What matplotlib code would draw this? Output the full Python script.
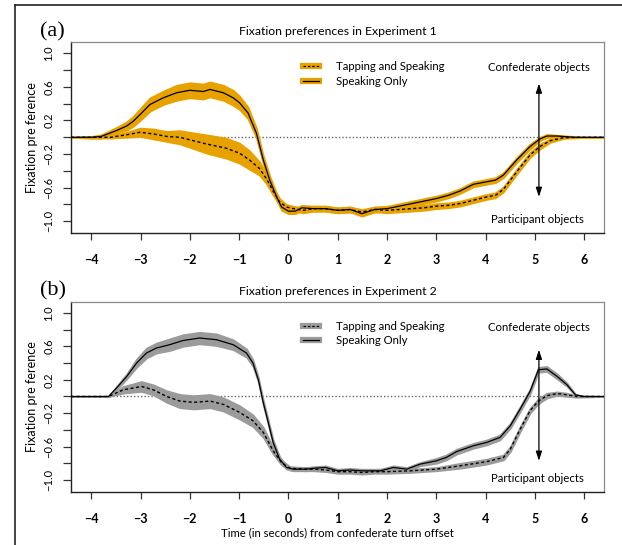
import matplotlib
matplotlib.use("Agg")
import matplotlib.pyplot as plt
from matplotlib.lines import Line2D
import numpy as np

# ---------------- data ----------------
# Experiment 1
e1_x_solid = [-4.41, -4.0, -3.8, -3.62, -3.45, -3.28, -3.15, -3.01, -2.81, -2.54, -2.27, -2.0,
              -1.73, -1.59, -1.32, -1.12, -0.99, -0.82, -0.65, -0.51, -0.38, -0.24, -0.14,
              0.0, 0.14, 0.27, 0.51, 0.75, 1.0, 1.25, 1.49, 1.75, 2.0, 2.25, 2.5, 2.75, 3.0,
              3.25, 3.48, 3.75, 4.02, 4.2, 4.36, 4.63, 4.9, 5.1, 5.24, 5.45, 5.79, 6.0, 6.4]
e1_y_solid = [0.0, 0.0, 0.01, 0.05, 0.09, 0.135, 0.19, 0.27, 0.39, 0.47, 0.53, 0.56,
              0.545, 0.57, 0.53, 0.47, 0.41, 0.29, 0.05, -0.27, -0.51, -0.71, -0.83,
              -0.88, -0.88, -0.84, -0.85, -0.85, -0.87, -0.86, -0.91, -0.86, -0.85, -0.82, -0.79, -0.76, -0.73,
              -0.69, -0.64, -0.56, -0.53, -0.51, -0.45, -0.27, -0.11, -0.02, 0.015, 0.015, 0.0, 0.0, 0.0]
e1_e_solid = [0.0, 0.01, 0.02, 0.03, 0.04, 0.05, 0.06, 0.07, 0.08, 0.08, 0.09, 0.09,
              0.09, 0.09, 0.09, 0.09, 0.08, 0.07, 0.06, 0.05, 0.05, 0.04, 0.04,
              0.03, 0.03, 0.03, 0.03, 0.03, 0.03, 0.03, 0.03, 0.03, 0.03, 0.03, 0.03, 0.03, 0.03,
              0.03, 0.03, 0.03, 0.03, 0.03, 0.03, 0.03, 0.03, 0.02, 0.02, 0.01, 0.01, 0.0, 0.0]

e1_x_dash = [-4.41, -4.0, -3.6, -3.45, -3.28, -3.01, -2.74, -2.47, -2.2, -2.0, -1.66, -1.26,
             -0.99, -0.79, -0.59, -0.45, -0.32, -0.18, -0.04, 0.1, 0.3, 0.51, 0.75, 1.0, 1.25,
             1.49, 1.75, 2.0, 2.25, 2.5, 2.75, 3.0, 3.25, 3.48, 3.75, 4.02, 4.2, 4.36, 4.63,
             4.9, 5.1, 5.31, 5.58, 5.85, 6.4]
e1_y_dash = [0.0, 0.0, 0.0, 0.015, 0.03, 0.06, 0.04, 0.01, 0.0, -0.03, -0.08, -0.13,
             -0.19, -0.27, -0.37, -0.49, -0.63, -0.77, -0.83, -0.85, -0.87, -0.85, -0.85, -0.87, -0.86,
             -0.89, -0.86, -0.87, -0.86, -0.85, -0.84, -0.82, -0.81, -0.79, -0.75, -0.71, -0.69, -0.62, -0.41,
             -0.21, -0.11, -0.04, -0.005, 0.0, 0.0]
e1_e_dash = [0.0, 0.01, 0.01, 0.02, 0.03, 0.05, 0.06, 0.06, 0.08, 0.09, 0.11, 0.12,
             0.12, 0.11, 0.08, 0.06, 0.05, 0.04, 0.03, 0.03, 0.03, 0.03, 0.03, 0.03, 0.03,
             0.03, 0.03, 0.03, 0.03, 0.03, 0.03, 0.03, 0.03, 0.03, 0.03, 0.03, 0.03, 0.03, 0.03,
             0.03, 0.03, 0.02, 0.01, 0.0, 0.0]

# Experiment 2
e2_x_solid = [-4.41, -4.0, -3.65, -3.49, -3.28, -3.08, -2.88, -2.68, -2.41, -2.14, -1.8, -1.46,
              -1.12, -0.85, -0.72, -0.61, -0.51, -0.41, -0.31, -0.18, -0.04, 0.1, 0.36, 0.51,
              0.75, 1.0, 1.25, 1.49, 1.86, 2.13, 2.4, 2.67, 3.0, 3.2, 3.41, 3.75, 4.02, 4.29,
              4.5, 4.7, 4.9, 5.07, 5.24, 5.45, 5.65, 5.82, 5.99, 6.4]
e2_y_solid = [0.0, 0.0, 0.0, 0.10, 0.24, 0.40, 0.52, 0.58, 0.62, 0.67, 0.70, 0.68,
              0.62, 0.52, 0.40, 0.20, -0.075, -0.31, -0.55, -0.75, -0.85, -0.87, -0.87, -0.86,
              -0.85, -0.89, -0.88, -0.89, -0.89, -0.85, -0.87, -0.81, -0.77, -0.73, -0.66, -0.59, -0.55, -0.49,
              -0.35, -0.15, 0.06, 0.32, 0.33, 0.24, 0.14, 0.02, 0.0, 0.0]
e2_e_solid = [0.0, 0.0, 0.0, 0.02, 0.03, 0.05, 0.06, 0.06, 0.07, 0.07, 0.07, 0.07,
              0.06, 0.05, 0.04, 0.03, 0.03, 0.03, 0.03, 0.03, 0.02, 0.02, 0.02, 0.02,
              0.02, 0.02, 0.02, 0.02, 0.02, 0.02, 0.02, 0.02, 0.03, 0.03, 0.03, 0.03, 0.03, 0.03,
              0.03, 0.03, 0.03, 0.03, 0.03, 0.03, 0.02, 0.01, 0.0, 0.0]

e2_x_dash = [-4.41, -4.0, -3.65, -3.35, -2.98, -2.74, -2.47, -2.2, -1.93, -1.59, -1.32, -0.99,
             -0.72, -0.51, -0.31, -0.14, 0.03, 0.36, 0.51, 0.75, 1.0, 1.25, 1.49, 1.75, 2.0, 2.47,
             3.0, 3.48, 4.02, 4.36, 4.5, 4.7, 4.9, 5.07, 5.24, 5.45, 5.65, 5.85, 6.4]
e2_y_dash = [0.0, 0.0, 0.0, 0.08, 0.12, 0.08, 0.0, -0.055, -0.07, -0.055, -0.095, -0.19,
             -0.29, -0.43, -0.65, -0.79, -0.86, -0.87, -0.87, -0.88, -0.9, -0.9, -0.91, -0.9, -0.9, -0.89,
             -0.87, -0.83, -0.78, -0.73, -0.63, -0.39, -0.17, -0.055, 0.01, 0.035, 0.02, 0.0, 0.0]
e2_e_dash = [0.0, 0.0, 0.0, 0.04, 0.06, 0.06, 0.07, 0.08, 0.08, 0.08, 0.08, 0.08,
             0.07, 0.06, 0.04, 0.03, 0.02, 0.02, 0.02, 0.02, 0.02, 0.02, 0.02, 0.02, 0.02, 0.02,
             0.02, 0.03, 0.03, 0.03, 0.03, 0.03, 0.03, 0.03, 0.03, 0.02, 0.02, 0.01, 0.0]

x_ticks = [-4, -3, -2, -1, 0, 1, 2, 3, 4, 5, 6]
y_ticks = [-1.0, -0.8, -0.6, -0.4, -0.2, 0.0, 0.2, 0.4, 0.6, 0.8, 1.0]
y_ticklabels = ["\u22121.0", "", "\u22120.6", "", "\u22120.2", "", "0.2", "", "0.6", "", "1.0"]
legend_labels = ["Tapping and Speaking", "Speaking Only"]
titles = ["Fixation preferences in Experiment 1", "Fixation preferences in Experiment 2"]
panel_tags = ["(a)", "(b)"]
arrow_top = [0.64, 0.56]
arrow_bottom = [-0.71, -0.77]
arrow_x = 5.08

ORANGE = "#E8A200"
GRAY = "#9B9B9B"

plt.rcParams['font.family'] = ['Lato', 'DejaVu Sans']

fig = plt.figure(figsize=(6.22, 5.45), dpi=100)

# outer frame (left + top only, as in the cropped reference)
fig.add_artist(Line2D([15/622, 15/622], [0, 1 - 5/545], transform=fig.transFigure,
                      color="#222222", lw=1.2))
fig.add_artist(Line2D([15/622, 1], [1 - 5/545, 1 - 5/545], transform=fig.transFigure,
                      color="#222222", lw=1.2))

panels = [
    dict(rect=[71/622, 1 - 233/545, 533/622, 191/545], band=ORANGE,
         xs=e1_x_solid, ys=e1_y_solid, es=e1_e_solid,
         xd=e1_x_dash, yd=e1_y_dash, ed=e1_e_dash),
    dict(rect=[71/622, 1 - 491.7/545, 533/622, 190/545], band=GRAY,
         xs=e2_x_solid, ys=e2_y_solid, es=e2_e_solid,
         xd=e2_x_dash, yd=e2_y_dash, ed=e2_e_dash),
]

for i, p in enumerate(panels):
    ax = fig.add_axes(p["rect"])
    ax.set_xlim(-4.41, 6.40)
    ax.set_ylim(-1.14, 1.135)
    ax.axhline(0, color="#666666", lw=1.0, ls=(0, (1, 1.5)), zorder=1)

    xd = np.array(p["xd"]); yd = np.array(p["yd"]); ed = np.array(p["ed"])
    xs = np.array(p["xs"]); ys = np.array(p["ys"]); es = np.array(p["es"])
    ax.fill_between(xd, yd - ed, yd + ed, color=p["band"], lw=1.2, edgecolor=p["band"], zorder=2)
    ax.fill_between(xs, ys - es, ys + es, color=p["band"], lw=1.2, edgecolor=p["band"], zorder=2)
    ax.plot(xd, yd, color="black", lw=1.0, ls=(0, (2.2, 1.8)), zorder=3)
    ax.plot(xs, ys, color="black", lw=0.9, zorder=3)

    ax.set_xticks(x_ticks)
    ax.set_xticklabels(["\u2212%d" % -t if t < 0 else str(t) for t in x_ticks])
    ax.set_yticks(y_ticks)
    ax.set_yticklabels(y_ticklabels, rotation=90, va="center")
    ax.tick_params(axis="x", length=5, width=0.9, pad=10, labelsize=9, color="#333333")
    ax.tick_params(axis="y", length=6, width=0.9, pad=6, labelsize=8, color="#333333")
    for lab in ax.get_xticklabels():
        lab.set_fontweight("bold")
    for side in ("left", "bottom"):
        ax.spines[side].set_color("#222222"); ax.spines[side].set_linewidth(1.0)
    for side in ("top", "right"):
        ax.spines[side].set_color("#8a8a8a"); ax.spines[side].set_linewidth(0.9)

    ax.set_ylabel("Fixation pre ference", fontsize=9, labelpad=4)
    ax.set_title(titles[i], fontsize=8.8, pad=5)

    # legend
    h_tap = (Line2D([], [], color=p["band"], lw=4.5),
             Line2D([], [], color="black", lw=0.9, ls=(0, (2, 1.5))))
    h_spk = (Line2D([], [], color=p["band"], lw=4.5),
             Line2D([], [], color="black", lw=0.9))
    ax.legend([h_tap, h_spk], legend_labels, loc="upper left",
              bbox_to_anchor=(0.435, 0.9), frameon=False, fontsize=8.2,
              handlelength=1.4, handletextpad=1.5, borderpad=0, borderaxespad=0,
              labelspacing=0.3)

    ax.text(arrow_x, 0.83, "Confederate objects", ha="center", va="center", fontsize=8.2)
    ax.text(5.04, -0.98, "Participant objects", ha="center", va="center", fontsize=8.2)
    ax.annotate("", xy=(arrow_x, arrow_top[i]), xytext=(arrow_x, arrow_bottom[i]),
                arrowprops=dict(arrowstyle="<|-|>,head_length=0.55,head_width=0.18",
                                color="black", lw=0.9, shrinkA=0, shrinkB=0), zorder=4)

    fig.text(40/622, 1 - (32 if i == 0 else 291)/545, panel_tags[i],
             family="Liberation Serif", fontsize=16, va="center", ha="left")

    if i == 1:
        ax.set_xlabel("Time (in seconds) from confederate turn offset", fontsize=8.2, labelpad=2)

fig.savefig("out.png", dpi=100)
